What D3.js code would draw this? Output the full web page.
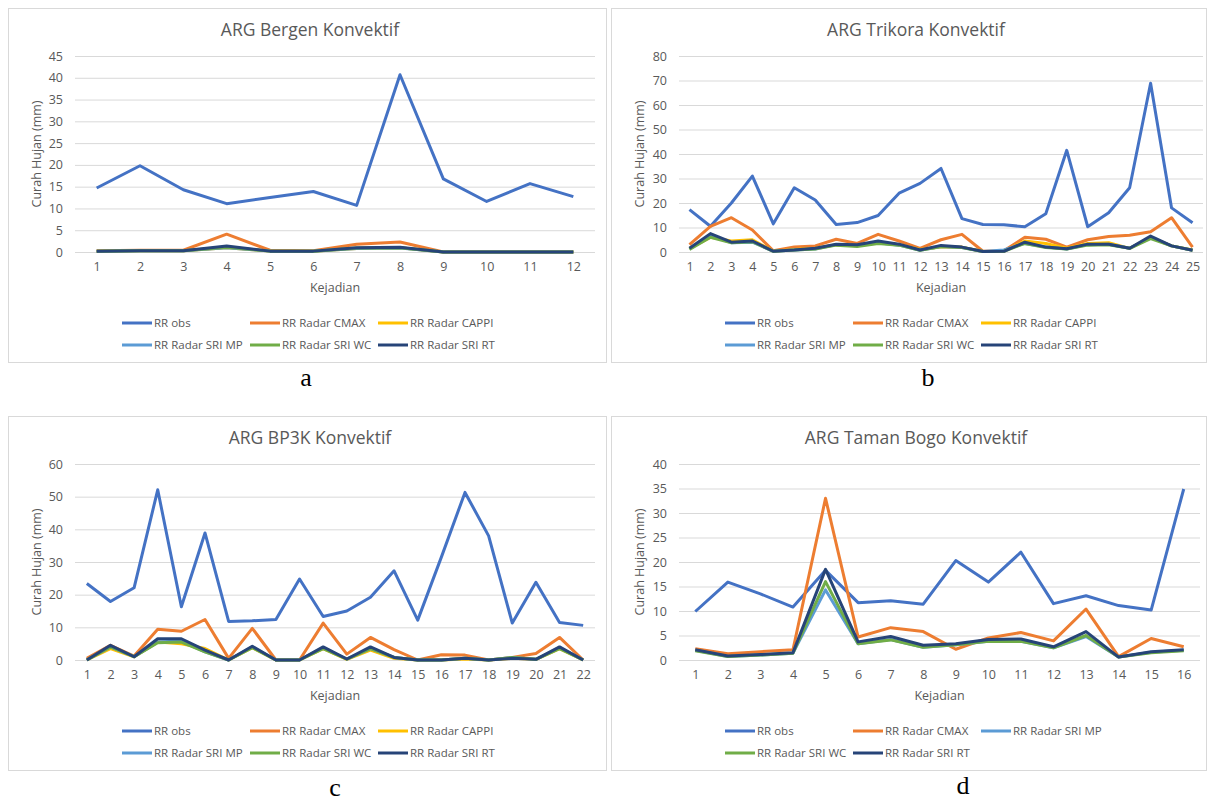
<!DOCTYPE html>
<html>
<head>
<meta charset="utf-8">
<script src="https://cdn.jsdelivr.net/npm/d3@7"></script>
<style>
  body { margin: 0; background: #fff; }
  text { font-family: "Open Sans", sans-serif; fill: #595959; }
</style>
</head>
<body>
<div id="chart"></div>
<script>
// series names and colours (Excel style)
var seriesNames = ["RR obs", "RR Radar CMAX", "RR Radar CAPPI", "RR Radar SRI MP", "RR Radar SRI WC", "RR Radar SRI RT"];
var seriesColors = ["#4472C4", "#ED7D31", "#FFC000", "#5B9BD5", "#70AD47", "#264478"];

// a - ARG Bergen
var bergenObs   = [14.7, 19.8, 14.3, 11.1, 12.5, 13.9, 10.7, 40.7, 16.8, 11.6, 15.7, 12.7];
var bergenCmax  = [0.3, 0.4, 0.4, 4.1, 0.4, 0.3, 1.8, 2.3, 0, 0, 0, 0];
var bergenCappi = [0.2, 0.3, 0.3, 1.0, 0.2, 0.2, 0.8, 1.0, 0, 0, 0, 0];
var bergenMp    = [0.2, 0.3, 0.3, 1.0, 0.2, 0.2, 0.8, 0.9, 0, 0, 0, 0];
var bergenWc    = [0.2, 0.3, 0.3, 1.1, 0.2, 0.2, 0.9, 1.0, 0, 0, 0, 0];
var bergenRt    = [0.2, 0.3, 0.3, 1.4, 0.2, 0.2, 1.0, 1.1, 0, 0, 0, 0];

// b - ARG Trikora
var trikoraObs   = [17.3, 10.5, 20, 31, 11.5, 26.2, 21.2, 11.2, 12, 14.9, 24, 28, 34.1, 13.6, 11.2, 11.1, 10.3, 15.6, 41.5, 10.3, 16, 26.2, 68.9, 18, 11.9];
var trikoraCmax  = [3, 10.5, 14, 9, 0.5, 2, 2.5, 5.2, 3.5, 7.2, 4.5, 1.5, 5, 7.2, 0.3, 0.5, 6, 5.2, 2, 5, 6.3, 6.8, 8.3, 14, 2];
var trikoraCappi = [1.5, 6, 4.5, 5, 0.3, 1, 1.5, 3, 2.5, 4, 3, 1, 2, 2, 0.2, 0.3, 4.5, 3.5, 1.5, 3.5, 3.8, 1.5, 6, 2.5, 0.8];
var trikoraMp    = [1.2, 6.5, 3.8, 4, 0.3, 0.8, 1.2, 3, 2.5, 3.8, 2.8, 0.7, 2.2, 1.8, 0.2, 0.8, 3.5, 2, 1.2, 3, 3.2, 1.5, 6, 2.5, 0.7];
var trikoraWc    = [1.0, 6.0, 3.8, 4.2, 0.3, 0.8, 1.2, 2.8, 2.2, 3.5, 2.8, 0.7, 2.2, 1.8, 0.2, 0.3, 3.5, 1.8, 1.2, 2.8, 3.0, 1.5, 5.5, 2.5, 0.7];
var trikoraRt    = [1.5, 7.5, 4, 4.5, 0.3, 0.8, 1.5, 3.2, 3, 4.5, 3.2, 0.8, 2.7, 2, 0.2, 0.3, 4, 2, 1.3, 3.2, 3.2, 1.5, 6.5, 2.5, 0.7];

// c - ARG BP3K
var bp3kObs   = [23.4, 17.9, 22.1, 52.1, 16.3, 38.9, 11.8, 12, 12.4, 24.8, 13.3, 15, 19.2, 27.3, 12.2, 31.5, 51.3, 38, 11.3, 23.8, 11.5, 10.6];
var bp3kCmax  = [0.5, 4.5, 1.2, 9.4, 8.8, 12.4, 0.5, 9.7, 0, 0, 11.3, 1.8, 6.9, 3.2, 0, 1.6, 1.5, 0, 0.8, 2, 6.9, 0];
var bp3kCappi = [0, 3.5, 1, 5.5, 5, 3.5, 0, 3.8, 0, 0, 3.5, 0.2, 3, 0.5, 0, 0, 0.3, 0, 0.5, 0.2, 3.5, 0];
var bp3kMp    = [0, 4, 1, 5.5, 5.8, 2.5, 0, 4, 0, 0, 3.8, 0.3, 3.5, 0.8, 0, 0, 0.5, 0, 0.8, 0.2, 3.8, 0];
var bp3kWc    = [0, 4, 1, 5.3, 5.5, 2.5, 0, 3.8, 0, 0, 3.5, 0.3, 3.5, 0.8, 0, 0, 0.5, 0, 0.8, 0.2, 3.5, 0];
var bp3kRt    = [0, 4.5, 1, 6.5, 6.5, 3, 0, 4.2, 0, 0, 4, 0.3, 4, 0.8, 0, 0, 0.5, 0, 0.5, 0.2, 4, 0];

// d - ARG Taman Bogo (no CAPPI series)
var bogoObs  = [9.9, 15.9, 13.5, 10.8, 18.3, 11.7, 12.1, 11.4, 20.3, 15.9, 22, 11.5, 13.1, 11.1, 10.2, 34.9];
var bogoCmax = [2.3, 1.3, 1.7, 2.1, 33, 4.7, 6.6, 5.8, 2.2, 4.5, 5.6, 3.9, 10.4, 0.7, 4.4, 2.7];
var bogoMp   = [2.0, 0.7, 1.0, 1.4, 14.3, 3.3, 4.2, 2.6, 3.1, 3.8, 3.8, 2.5, 4.8, 0.6, 1.6, 2.0];
var bogoWc   = [1.9, 0.7, 1.0, 1.4, 16, 3.3, 4.1, 2.6, 3.1, 3.8, 3.8, 2.5, 5.0, 0.6, 1.5, 1.9];
var bogoRt   = [2.1, 0.8, 1.1, 1.5, 18.5, 3.7, 4.8, 3.0, 3.3, 4.2, 4.3, 2.7, 5.8, 0.6, 1.7, 2.1];

var svg = d3.select("#chart").append("svg")
    .attr("width", 1211)
    .attr("height", 804);

svg.append("rect").attr("width", 1211).attr("height", 804).attr("fill", "#fff");

function drawPanel(cfg) {
  var g = svg.append("g").attr("transform", "translate(" + cfg.x + "," + cfg.y + ")");
  var n = cfg.series[0].length;
  var cats = d3.range(1, n + 1);

  // frame
  g.append("rect")
      .attr("x", 0.5).attr("y", 0.5)
      .attr("width", cfg.w).attr("height", 354)
      .attr("fill", "none")
      .attr("stroke", "#d9d9d9");

  var x = d3.scalePoint().domain(cats).range([cfg.left, cfg.right]).padding(0.5);
  var y = d3.scaleLinear().domain([0, cfg.max]).range([244, 48]);

  // gridlines + y labels
  var yAxis = g.append("g")
      .attr("transform", "translate(" + cfg.left + ",0)")
      .call(d3.axisLeft(y).tickValues(d3.range(0, cfg.max + 1, cfg.step))
            .tickSize(-(cfg.right - cfg.left)).tickPadding(12));
  yAxis.select(".domain").remove();
  yAxis.selectAll("line").attr("stroke", "#d9d9d9");
  yAxis.selectAll("text").attr("font-size", 12.5).style("font-family", "'Open Sans', sans-serif").attr("fill", "#595959");

  // x labels
  var xAxis = g.append("g")
      .attr("transform", "translate(0,244)")
      .call(d3.axisBottom(x).tickSize(0).tickPadding(10));
  xAxis.select(".domain").remove();
  xAxis.selectAll("text").attr("font-size", 12.5).style("font-family", "'Open Sans', sans-serif").attr("fill", "#595959");

  // title
  g.append("text")
      .attr("x", cfg.titleX).attr("y", 28)
      .attr("text-anchor", "middle")
      .attr("font-size", 17.5)
      .text(cfg.title);

  // axis titles
  g.append("text")
      .attr("x", (cfg.left + cfg.right) / 2).attr("y", 284)
      .attr("text-anchor", "middle")
      .attr("font-size", 12.5)
      .text("Kejadian");

  g.append("text")
      .attr("transform", "translate(33," + (146) + ") rotate(-90)")
      .attr("text-anchor", "middle")
      .attr("font-size", 12.5)
      .text("Curah Hujan (mm)");

  var line = d3.line()
      .x(function(d, i) { return x(i + 1); })
      .y(function(d) { return y(d); });

  cfg.series.forEach(function(s, k) {
    g.append("path")
        .datum(s)
        .attr("fill", "none")
        .attr("stroke", cfg.colors[k])
        .attr("stroke-width", 3)
        .attr("stroke-linejoin", "round")
        .attr("d", line);
  });

  // legend, 3 per row
  cfg.names.forEach(function(name, k) {
    var lx = 114 + (k % 3) * 128;
    var ly = 315 + Math.floor(k / 3) * 22;
    g.append("line")
        .attr("x1", lx).attr("x2", lx + 30)
        .attr("y1", ly).attr("y2", ly)
        .attr("stroke", cfg.colors[k])
        .attr("stroke-width", 3);
    g.append("text")
        .attr("x", lx + 32).attr("y", ly + 4)
        .attr("font-size", 11.5)
        .text(name);
  });

  // panel letter
  svg.append("text")
      .attr("x", cfg.letterX).attr("y", cfg.letterY)
      .attr("text-anchor", "middle")
      .style("font-family", "'Liberation Serif', serif")
      .style("fill", "#000")
      .attr("font-size", 26)
      .text(cfg.letter);
}

drawPanel({
  x: 8, y: 8, w: 598, left: 67, right: 587, max: 45, step: 5, titleX: 302,
  title: "ARG Bergen Konvektif",
  series: [bergenObs, bergenCmax, bergenCappi, bergenMp, bergenWc, bergenRt],
  names: seriesNames, colors: seriesColors,
  letter: "a", letterX: 306, letterY: 386
});

drawPanel({
  x: 611, y: 8, w: 595, left: 68, right: 592, max: 80, step: 10, titleX: 305,
  title: "ARG Trikora Konvektif",
  series: [trikoraObs, trikoraCmax, trikoraCappi, trikoraMp, trikoraWc, trikoraRt],
  names: seriesNames, colors: seriesColors,
  letter: "b", letterX: 928, letterY: 386
});

drawPanel({
  x: 8, y: 416, w: 598, left: 67, right: 587, max: 60, step: 10, titleX: 302,
  title: "ARG BP3K Konvektif",
  series: [bp3kObs, bp3kCmax, bp3kCappi, bp3kMp, bp3kWc, bp3kRt],
  names: seriesNames, colors: seriesColors,
  letter: "c", letterX: 335, letterY: 796
});

drawPanel({
  x: 611, y: 416, w: 595, left: 68, right: 589, max: 40, step: 5, titleX: 305,
  title: "ARG Taman Bogo Konvektif",
  series: [bogoObs, bogoCmax, bogoMp, bogoWc, bogoRt],
  names: ["RR obs", "RR Radar CMAX", "RR Radar SRI MP", "RR Radar SRI WC", "RR Radar SRI RT"],
  colors: ["#4472C4", "#ED7D31", "#5B9BD5", "#70AD47", "#264478"],
  letter: "d", letterX: 963, letterY: 794
});
</script>
</body>
</html>
